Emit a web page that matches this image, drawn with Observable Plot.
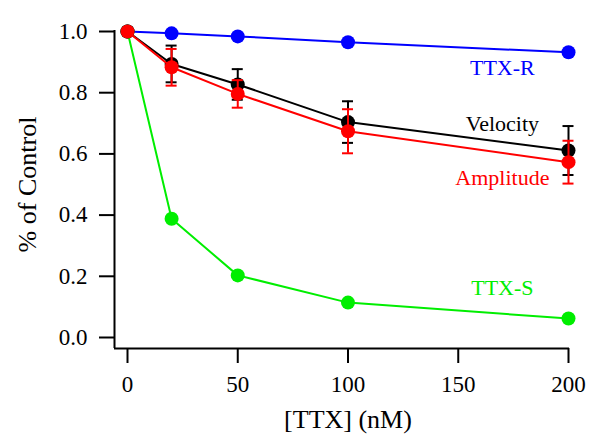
<!DOCTYPE html>
<html>
<head>
<meta charset="utf-8">
<script src="https://cdn.jsdelivr.net/npm/d3@7"></script>
<script src="https://cdn.jsdelivr.net/npm/@observablehq/plot@0.6"></script>
<style>
  html, body { margin: 0; padding: 0; background: #fff; }
  svg { display: block; }
  g[aria-label="y-axis tick label"] text, g[aria-label="x-axis tick label"] text { font-size: 23px !important; }
</style>
</head>
<body>
<div id="chart"></div>
<script>
const doses = [0, 20, 50, 100, 200];
const ttxR = [1.0, 0.994, 0.984, 0.965, 0.932];
const velocity = [1.0, 0.894, 0.827, 0.704, 0.611];
const velocityErr = [0, 0.06, 0.05, 0.068, 0.08];
const amplitude = [1.0, 0.883, 0.796, 0.674, 0.573];
const amplitudeErr = [0, 0.06, 0.045, 0.072, 0.07];
const ttxS = [1.0, 0.388, 0.203, 0.114, 0.062];

const xTicks = [0, 50, 100, 150, 200];
const yTicks = [0.0, 0.2, 0.4, 0.6, 0.8, 1.0];

const seriesLabels = ["TTX-R", "Velocity", "Amplitude", "TTX-S"];
const labelX = [170, 170, 170, 170];
const labelY = [0.882, 0.699, 0.523, 0.163];
const seriesColors = ["#0000ff", "#000000", "#ff0000", "#00ee00"];

const mk = (vals, errs) => doses.map((x, i) => ({x, y: vals[i], e: errs ? errs[i] : 0}));
const dR = mk(ttxR), dV = mk(velocity, velocityErr), dA = mk(amplitude, amplitudeErr), dS = mk(ttxS);
const labels = seriesLabels.map((t, i) => ({t, x: labelX[i], y: labelY[i], c: seriesColors[i]}));

function series(data, color, withErr) {
  const marks = [Plot.line(data, {x: "x", y: "y", stroke: color, strokeWidth: 2})];
  if (withErr) {
    const ed = data.filter(d => d.e > 0);
    marks.push(
      Plot.ruleX(ed, {x: "x", y1: d => d.y - d.e, y2: d => d.y + d.e, stroke: color, strokeWidth: 2}),
      Plot.ruleY(ed, {y: d => d.y + d.e, x1: "x", x2: "x", insetLeft: -5.5, insetRight: -5.5, stroke: color, strokeWidth: 2}),
      Plot.ruleY(ed, {y: d => d.y - d.e, x1: "x", x2: "x", insetLeft: -5.5, insetRight: -5.5, stroke: color, strokeWidth: 2})
    );
  }
  marks.push(Plot.dot(data, {x: "x", y: "y", r: 7, fill: color, stroke: "none"}));
  return marks;
}

const chart = Plot.plot({
  width: 600,
  height: 448,
  marginLeft: 127,
  marginRight: 32,
  marginTop: 31,
  marginBottom: 111,
  style: {fontFamily: "'Liberation Serif', 'Times New Roman', serif", fontSize: "23px", color: "#000", background: "#fff"},
  x: {domain: [0, 200]},
  y: {domain: [0, 1]},
  marks: [
    Plot.axisY({ticks: yTicks, tickFormat: d => d.toFixed(1), tickSize: 15, tickPadding: 12, dx: -13, strokeWidth: 2,
      fontSize: 23, label: null}),
    Plot.axisY({ticks: [], tickSize: 0, dx: -13, fontSize: 26,
      label: "% of Control", labelAnchor: "center", labelArrow: false, labelOffset: 110}),
    Plot.axisX({ticks: xTicks, tickFormat: d => String(d), tickSize: 15, tickPadding: 12, dy: 11, strokeWidth: 2,
      fontSize: 23, label: null}),
    Plot.axisX({ticks: [], tickSize: 0, dy: 11, fontSize: 26,
      label: "[TTX] (nM)", labelAnchor: "center", labelArrow: false, labelOffset: 90}),
    Plot.ruleX([0], {dx: -13, insetBottom: -11, insetTop: -1, stroke: "#000", strokeWidth: 2}),
    Plot.ruleY([0], {dy: 11, x1: 0, x2: 200, insetLeft: -13, insetRight: -1, stroke: "#000", strokeWidth: 2}),
    ...series(dR, seriesColors[0], false),
    ...series(dS, seriesColors[3], false),
    ...series(dV, seriesColors[1], true),
    ...series(dA, seriesColors[2], true),
    Plot.text(labels, {x: "x", y: "y", text: "t", fill: "c", fontSize: 22, textAnchor: "middle"})
  ]
});
document.getElementById("chart").appendChild(chart);
</script>
</body>
</html>
